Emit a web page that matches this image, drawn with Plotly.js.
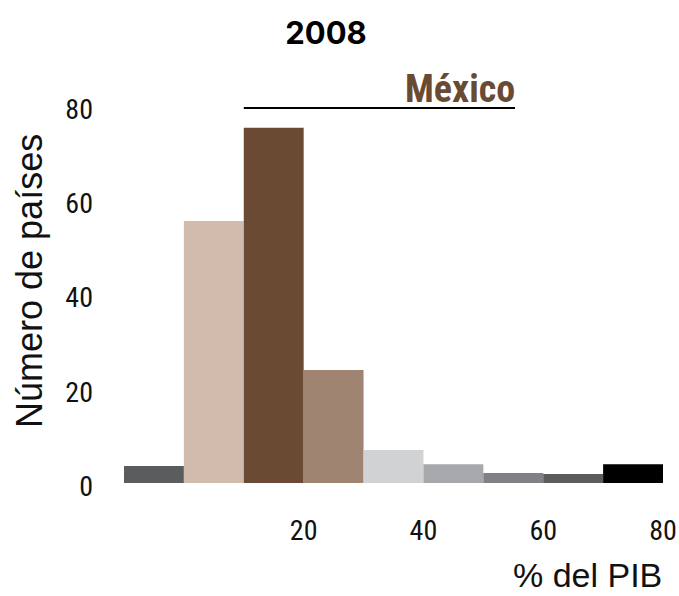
<!DOCTYPE html>
<html>
<head>
<meta charset="utf-8">
<script src="https://cdn.plot.ly/plotly-3.0.1.min.js"></script>
<style>html,body{margin:0;padding:0;background:#fff;}#chart{width:679px;height:596px;}</style>
</head>
<body>
<div id="chart"></div>
<script>
// Data
const binStarts = [-10, 0, 10, 20, 30, 40, 50, 60, 70];
const binWidth = 10;
const countries = [3.6, 55.6, 75.4, 24, 7, 4, 2.1, 1.9, 4];
const barColors = ['#5b5c5e', '#d0bbad', '#6b4a33', '#a08472', '#d1d2d4', '#a7a8ab', '#808184', '#5b5c5e', '#000000'];
const xTicks = [20, 40, 60, 80];
const yTicks = [0, 20, 40, 60, 80];
const mexicoRange = [10, 55.3];
const mexicoLevel = 79.6;
const chartTitle = '2008';
const mexicoLabel = 'México';
const xTitle = '% del PIB';
const yTitle = 'Número de países';

const centers = binStarts.map(s => s + binWidth / 2);

const trace = {
  type: 'bar',
  x: centers,
  y: countries,
  width: binWidth,
  marker: {color: barColors, line: {width: 0}},
  hoverinfo: 'x+y'
};

const narrow = '"Liberation Sans Narrow", "Roboto Condensed", "Liberation Sans", sans-serif';

const layout = {
  width: 679,
  height: 596,
  margin: {l: 124, r: 16, t: 106, b: 113},
  paper_bgcolor: '#ffffff',
  plot_bgcolor: '#ffffff',
  showlegend: false,
  title: {
    text: '<b>' + chartTitle + '</b>',
    x: 326 / 679, xref: 'container', xanchor: 'center',
    y: 1 - 33 / 596, yref: 'container', yanchor: 'middle',
    font: {family: 'Inter, Roboto, sans-serif', size: 31, color: '#000'}
  },
  xaxis: {
    range: [-10, 80],
    tickvals: xTicks,
    ticktext: xTicks.map(String),
    showgrid: false, zeroline: false, showline: false,
    ticks: '',
    ticklabelstandoff: 28,
    tickfont: {family: narrow, size: 28, color: '#111'},
    fixedrange: true
  },
  yaxis: {
    range: [0, 80],
    tickvals: yTicks,
    ticktext: yTicks.map(String),
    showgrid: false, zeroline: false, showline: false,
    ticks: '',
    ticklabelstandoff: 30,
    ticklabelshift: 3,
    tickfont: {family: narrow, size: 28, color: '#111'},
    fixedrange: true
  },
  shapes: [{
    type: 'line', xref: 'x', yref: 'y',
    x0: mexicoRange[0], x1: mexicoRange[1], y0: mexicoLevel, y1: mexicoLevel,
    line: {color: '#000', width: 2}
  }],
  annotations: [
    {
      text: '<b>' + mexicoLabel + '</b>', xref: 'x', yref: 'paper',
      x: mexicoRange[1] + 0.4, xanchor: 'right',
      y: 1 + 17 / 377, yanchor: 'middle',
      showarrow: false,
      font: {family: narrow, size: 38, color: '#6b4a33'}
    },
    {
      text: xTitle, xref: 'paper', yref: 'paper',
      x: 1, xanchor: 'right', y: -(575 - 483) / 377, yanchor: 'middle',
      showarrow: false, borderpad: 0,
      font: {family: '"Liberation Sans", Arial, sans-serif', size: 34, color: '#111'}
    },
    {
      text: yTitle, xref: 'paper', yref: 'paper',
      x: -(124 - 29) / 539, xanchor: 'center', y: (483 - 281) / 377, yanchor: 'middle',
      textangle: -90,
      showarrow: false,
      font: {family: '"Liberation Sans", Arial, sans-serif', size: 36, color: '#111'}
    }
  ]
};

Plotly.newPlot('chart', [trace], layout, {displayModeBar: false, staticPlot: true});
</script>
</body>
</html>
